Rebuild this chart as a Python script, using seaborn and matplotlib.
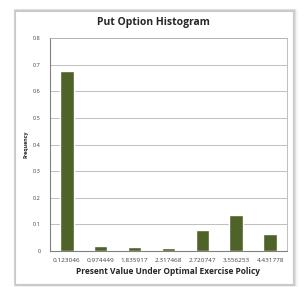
import pandas as pd
import seaborn as sns
import matplotlib.pyplot as plt
from matplotlib.patches import Rectangle

bins = ['0.123046', '0.974449', '1.835917', '2.317468', '2.720747', '3.556253', '4.431778']
freq = [0.677, 0.021, 0.016, 0.010, 0.078, 0.134, 0.065]
df = pd.DataFrame({'bin': bins, 'freq': freq})

sns.set_style('white')
plt.rcParams['font.family'] = ['Open Sans', 'DejaVu Sans']

fig = plt.figure(figsize=(3.06, 2.87), dpi=100)
fig.patch.set_facecolor('white')

# chart frame with soft shadow
for i, a in enumerate([0.04, 0.07, 0.10]):
    fig.patches.append(Rectangle((0.045 + 0.003 * (2 - i), 0.008), 0.915, 0.957,
                                 transform=fig.transFigure, facecolor='none',
                                 edgecolor=(0, 0, 0, a), lw=2 - i * 0.5, zorder=-2))
fig.patches.append(Rectangle((0.048, 0.012), 0.91, 0.95, transform=fig.transFigure,
                             facecolor='white', edgecolor='#c8c8c8', lw=0.8, zorder=-1))

ax = fig.add_axes([0.163, 0.125, 0.775, 0.743])
sns.barplot(data=df, x='bin', y='freq', color='#4f6228', saturation=1, width=0.4, ax=ax)

ax.set_ylim(0, 0.8)
ax.set_yticks([0, 0.1, 0.2, 0.3, 0.4, 0.5, 0.6, 0.7, 0.8])
ax.set_yticklabels(['0', '0.1', '0.2', '0.3', '0.4', '0.5', '0.6', '0.7', '0.8'])
ax.yaxis.grid(True, color='#b4b4b4', lw=0.6)
ax.set_axisbelow(True)
for s in ['top', 'right']:
    ax.spines[s].set_color('#b4b4b4')
    ax.spines[s].set_linewidth(0.6)
ax.spines['left'].set_color('#808080')
ax.spines['bottom'].set_color('#808080')
ax.spines['left'].set_linewidth(0.8)
ax.spines['bottom'].set_linewidth(0.8)
ax.tick_params(axis='both', labelsize=4, colors='#404040', length=0, pad=4)
ax.set_xticks(range(len(bins)))
ax.set_xticklabels(bins)
ax.set_xticks([i - 0.5 for i in range(len(bins) + 1)], minor=True)
ax.tick_params(axis='x', which='minor', length=2.5, color='#808080', width=0.6)
ax.tick_params(axis='x', which='major', pad=5, labelsize=4.6)
ax.tick_params(axis='y', length=2.5, color='#808080', width=0.6, direction='out')

fig.text(0.503, 1 - 22.5 / 287, 'Put Option Histogram', fontsize=7.5, fontweight='bold',
         ha='center', va='center')
ax.set_xlabel('Present Value Under Optimal Exercise Policy', fontsize=6, fontweight='bold', labelpad=3)
ax.set_ylabel('Frequency', fontsize=3.8, fontweight='bold', labelpad=3)

fig.savefig('out.png', dpi=100)
